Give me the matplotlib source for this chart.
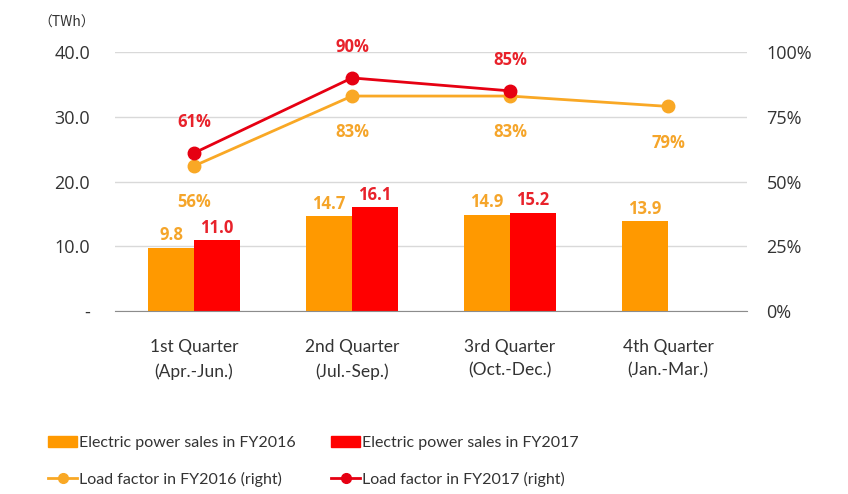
import numpy as np
import matplotlib
matplotlib.use("Agg")
import matplotlib.pyplot as plt
from matplotlib.lines import Line2D
from matplotlib.patches import Patch

plt.rcParams['font.family'] = ['Open Sans', 'DejaVu Sans']

quarters = ["1st Quarter\n(Apr.-Jun.)", "2nd Quarter\n(Jul.-Sep.)",
            "3rd Quarter\n(Oct.-Dec.)", "4th Quarter\n(Jan.-Mar.)"]
sales_2016 = [9.8, 14.7, 14.9, 13.9]
sales_2017 = [11.0, 16.1, 15.2]
load_2016 = [56, 83, 83, 79]
load_2017 = [61, 90, 85]

ORANGE = "#FF9900"
RED = "#FF0000"
ORANGE_TXT = "#F5A52A"
RED_TXT = "#E8222B"
ORANGE_LINE = "#F9A825"
RED_LINE = "#E60012"

fig = plt.figure(figsize=(8.48, 4.94), dpi=100)
ax = fig.add_axes([0.1356, 0.3704, 0.7453, 0.5243])
ax2 = ax.twinx()

x = np.arange(len(quarters))
w = 0.29
x16 = x - w / 2
x17 = x[:len(sales_2017)] + w / 2
ax.bar(x16, sales_2016, width=w, color=ORANGE, zorder=2)
ax.bar(x17, sales_2017, width=w, color=RED, zorder=2)

for xi, v in zip(x16, sales_2016):
    ax.text(xi, v + 0.5, f"{v:.1f}", ha="center", va="bottom",
            color=ORANGE_TXT, fontsize=12, fontweight="bold")
for xi, v in zip(x17, sales_2017):
    ax.text(xi, v + 0.5, f"{v:.1f}", ha="center", va="bottom",
            color=RED_TXT, fontsize=12, fontweight="bold")

ax.set_ylim(0, 40)
ax.set_xlim(-0.5, 3.5)
ax.set_yticks([0, 10, 20, 30, 40])
ax.set_yticklabels(["-", "10.0", "20.0", "30.0", "40.0"], fontsize=13, color="#333333")
ax.set_xticks(x)
ax.set_xticklabels(quarters, fontsize=12.5, color="#333333", linespacing=1.6,
                   family=["Lato", "DejaVu Sans"])
ax.grid(axis="y", color="#D9D9D9", lw=1, zorder=0)
ax.set_axisbelow(True)
for s in ["top", "left", "right"]:
    ax.spines[s].set_visible(False)
ax.spines["bottom"].set_color("#8C8C8C")
ax.tick_params(axis="both", length=0)
ax.tick_params(axis="y", pad=18)
ax.tick_params(axis="x", pad=20)

ax2.plot(x, load_2016, color=ORANGE_LINE, lw=2, marker="o", ms=9, zorder=3)
ax2.plot(x[:len(load_2017)], load_2017, color=RED_LINE, lw=2, marker="o", ms=9, zorder=4)
for xi, v in zip(x, load_2016):
    ax2.text(xi, v - 14, f"{v}%", ha="center", va="center",
             color=ORANGE_TXT, fontsize=12, fontweight="bold")
for xi, v in zip(x[:len(load_2017)], load_2017):
    ax2.text(xi, v + 12, f"{v}%", ha="center", va="center",
             color=RED_TXT, fontsize=12, fontweight="bold")
ax2.set_ylim(0, 100)
ax2.set_yticks([0, 25, 50, 75, 100])
ax2.set_yticklabels(["0%", "25%", "50%", "75%", "100%"], fontsize=13, color="#333333")
ax2.tick_params(axis="y", length=0, pad=14)
for s in ax2.spines.values():
    s.set_visible(False)

fig.text(0.045, 0.955, "\uff08TWh\uff09", fontsize=10, color="#333333", va="center",
         family=["Noto Sans CJK JP", "DejaVu Sans"])

handles = [
    Patch(color=ORANGE),
    Line2D([], [], color=ORANGE_LINE, lw=2, marker="o", ms=7),
    Patch(color=RED),
    Line2D([], [], color=RED_LINE, lw=2, marker="o", ms=7),
]
labels = ["Electric power sales in FY2016", "Load factor in FY2016 (right)",
          "Electric power sales in FY2017", "Load factor in FY2017 (right)"]
fig.legend(handles, labels, loc="lower left", bbox_to_anchor=(0.04, -0.015),
           ncol=2, frameon=False, handlelength=1.8,
           handletextpad=0.15, columnspacing=2.2, labelspacing=1.35,
           labelcolor="#333333", prop={"family": ["Lato", "DejaVu Sans"], "size": 11.5})

fig.savefig("out.png", dpi=100)
